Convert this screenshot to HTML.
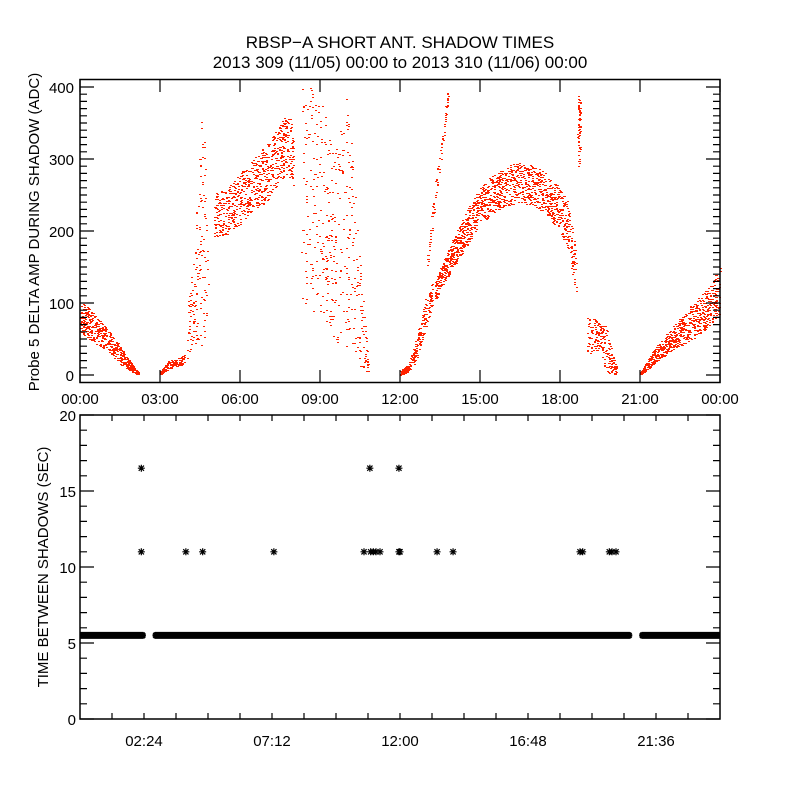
<!DOCTYPE html>
<html><head><meta charset="utf-8"><style>
html,body{margin:0;padding:0;background:#fff;}
svg text{font-family:"Liberation Sans",sans-serif;fill:#000;}
</style></head><body>
<svg id="chart" width="800" height="800" viewBox="0 0 800 800" xmlns="http://www.w3.org/2000/svg">
<defs><clipPath id="botClip"><rect x="80" y="415" width="640" height="304"/></clipPath></defs>
<rect width="800" height="800" fill="#fff"/>
<text x="400" y="48" font-size="17" text-anchor="middle">RBSP−A SHORT ANT. SHADOW TIMES</text>
<text x="400" y="68" font-size="17" text-anchor="middle">2013 309 (11/05) 00:00 to 2013 310 (11/06) 00:00</text>
<g id="topPanel"></g>
<g id="botPanel"></g>
</svg>
<script>
// ---- top panel data: bands of (hour, low ADC, high ADC) ----
const bandHours = [
 [0,0.5,1.0,1.5,2.0,2.2],
 [3.0,3.3,3.6,3.9],
 [4.0,4.3,4.6,4.8],
 [5.0,5.5,6.0,6.5,7.0,7.5,7.8,8.0],
 [8.3,9.0,9.5,10.0,10.5,10.8],
 [12.0,12.3,12.6,12.9,13.2],
 [13.0,13.3,13.6,13.8],
 [13.3,13.5,14.0,14.5,15.0,15.5,16.0,16.5,17.0,17.5,18.0,18.3,18.6],
 [18.65,18.75],
 [19.0,19.3,19.5,19.7,20.1],
 [21.0,21.5,22.0,22.5,23.0,23.5,24.0]
];
const bandLow = [
 [60,45,35,15,3,0],
 [0,8,12,15],
 [20,40,40,60],
 [190,195,210,230,240,270,280,260],
 [100,80,50,30,10,0],
 [0,5,20,60,90],
 [140,240,320,390],
 [100,120,150,180,210,225,235,240,235,220,200,170,110],
 [280,300],
 [30,30,40,5,0],
 [0,15,30,40,50,65,85]
];
const bandHigh = [
 [105,85,65,40,12,3],
 [5,20,22,28],
 [100,180,400,150],
 [250,260,280,300,320,350,365,340],
 [400,400,300,400,150,20],
 [5,15,50,100,130],
 [160,265,345,400],
 [130,150,190,230,260,280,290,295,290,280,260,240,170],
 [390,380],
 [80,80,70,70,10],
 [3,35,60,80,100,120,150]
];
const bandDensity = [500,150,150,700,400,250,80,1300,60,200,700];
// ---- bottom panel data ----
const baseStart = [0,2.85,21.1];
const baseEnd = [2.35,20.6,24];
const baseValue = 5.5;
const outHours = [2.3,2.3,3.97,4.6,7.27,10.65,10.87,10.9,11.0,11.1,11.25,11.96,11.96,12.0,13.39,13.99,18.75,18.85,19.85,19.95,20.1];
const outValues = [16.5,11,11,11,11,11,16.5,11,11,11,11,16.5,11,11,11,11,11,11,11,11,11];
const topTicks = ["00:00","03:00","06:00","09:00","12:00","15:00","18:00","21:00","00:00"];
const topYTicks = [0,100,200,300,400];
const botXTicks = ["02:24","07:12","12:00","16:48","21:36"];
const botYTicks = [0,5,10,15,20];

const NS="http://www.w3.org/2000/svg";
function mk(tag,attrs,parent){const e=document.createElementNS(NS,tag);for(const k in attrs)e.setAttribute(k,attrs[k]);parent.appendChild(e);return e;}
const X0=80,X1=720;
const xH=h=>X0+h*(X1-X0)/24;
const yT=v=>375-v*0.72;
const yB=v=>719-v*15.2;
const topG=document.getElementById('topPanel'), botG=document.getElementById('botPanel');

let seed=12345;function rnd(){seed=(Math.imul(seed,1103515245)+12345)>>>0;return (seed>>>8)/16777216;}
function interp(xs,ys,t){for(let i=0;i<xs.length-1;i++){if(t>=xs[i]&&t<=xs[i+1]){const f=(t-xs[i])/(xs[i+1]-xs[i]||1);return ys[i]+f*(ys[i+1]-ys[i]);}}return ys[ys.length-1];}
let pts='';
for(let b=0;b<bandHours.length;b++){
 const hs=bandHours[b],n=bandDensity[b];
 for(let i=0;i<n;i++){
  const t=hs[0]+rnd()*(hs[hs.length-1]-hs[0]);
  const lo=interp(hs,bandLow[b],t),hi=interp(hs,bandHigh[b],t);
  const v=lo+rnd()*(hi-lo);
  const px=Math.round(xH(t)),py=Math.round(yT(v));
  if(py<80||py>381)continue;
  pts+=`M${px} ${py}h2v1h-2z`;
 }
}
const dots=mk('path',{d:pts,fill:'#ff2200'},topG);



const tb=mk('rect',{x:X0,y:79.5,width:X1-X0,height:303,fill:'none',stroke:'#000','stroke-width':1.5},topG);


let tk='';
topTicks.forEach((s,i)=>{const x=xH(i*3);tk+=`M${x} 383v-13M${x} 79v13`;
 const t=mk('text',{x:x,y:404,'font-size':15,'text-anchor':'middle'},topG);t.textContent=s;
 
 });
for(let v=-10;v<=410;v+=10){const y=yT(v);if(y<80||y>382)continue;const L=(v%100===0)?14:7;tk+=`M${X0} ${y}h${L}M${X1} ${y}h-${L}`;}
topYTicks.forEach(v=>{const t=mk('text',{x:74,y:yT(v)+6,'font-size':15,'text-anchor':'end'},topG);t.textContent=v;
 
 });
mk('path',{d:tk,stroke:'#000','stroke-width':1.2,fill:'none'},topG);
const yl=mk('text',{x:0,y:0,'font-size':15,'text-anchor':'middle',transform:'translate(39,232) rotate(-90)'},topG);
yl.textContent='Probe 5 DELTA AMP DURING SHADOW (ADC)';



function star(x,y,s){return `M${x-s} ${y}h${2*s}M${x} ${y-s}v${2*s}M${x-s*0.75} ${y-s*0.75}l${1.5*s} ${1.5*s}M${x-s*0.75} ${y+s*0.75}l${1.5*s} ${-1.5*s}`;}
let sp='';
for(let k=0;k<baseStart.length;k++){for(let t=baseStart[k];t<=baseEnd[k];t+=0.03){sp+=star(xH(t),yB(baseValue),3.5);}}
const base=mk('path',{d:sp,stroke:'#000','stroke-width':2.2,fill:'none','clip-path':'url(#botClip)'},botG);


let op='';
outHours.forEach((h,i)=>{op+=star(xH(h),yB(outValues[i]),3.5);});
const outl=mk('path',{d:op,stroke:'#000','stroke-width':1.2,fill:'none'},botG);



const bb=mk('rect',{x:X0,y:415,width:X1-X0,height:304,fill:'none',stroke:'#000','stroke-width':1.5},botG);


let bk='';
for(let i=1;i<20;i++){const x=xH(i*1.2);bk+=`M${x} 719v-6M${x} 415v6`;}
botXTicks.forEach((s,i)=>{const t=mk('text',{x:xH(2.4+i*4.8),y:746,'font-size':15,'text-anchor':'middle'},botG);t.textContent=s;
 
 });
for(let v=0;v<=20;v++){const y=yB(v);const L=(v%5===0)?14:7;bk+=`M${X0} ${y}h${L}M${X1} ${y}h-${L}`;}
botYTicks.forEach(v=>{const t=mk('text',{x:76,y:yB(v)+6,'font-size':15,'text-anchor':'end'},botG);t.textContent=v;
 
 });
mk('path',{d:bk,stroke:'#000','stroke-width':1.2,fill:'none'},botG);
const yl2=mk('text',{x:0,y:0,'font-size':15,'text-anchor':'middle',transform:'translate(48,567) rotate(-90)'},botG);
yl2.textContent='TIME BETWEEN SHADOWS (SEC)';


</script>
</body></html>
